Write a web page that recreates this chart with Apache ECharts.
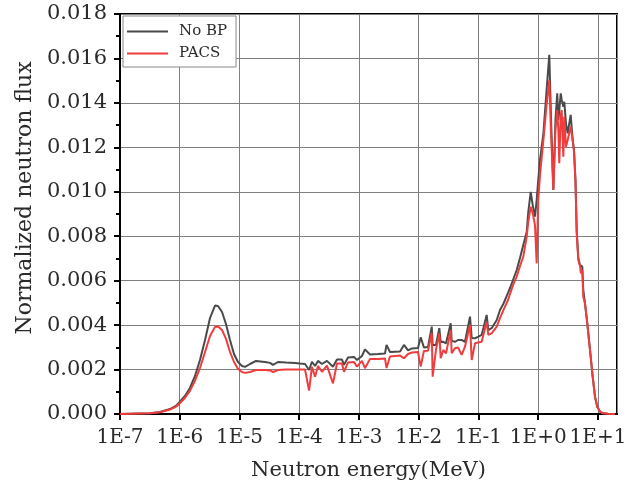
<!DOCTYPE html>
<html>
<head>
<meta charset="utf-8">
<script src="https://cdn.jsdelivr.net/npm/echarts@6/dist/echarts.min.js"></script>
<style>html,body{margin:0;padding:0;background:#fff}#c{width:633px;height:490px}</style>
</head>
<body>
<div id="c"></div>
<script>
const energy = [1.00e-7,1.47e-7,2.16e-7,3.18e-7,4.67e-7,6.87e-7,8.99e-7,1.22e-6,1.48e-6,1.80e-6,2.18e-6,2.65e-6,3.21e-6,3.89e-6,4.37e-6,5.10e-6,5.94e-6,6.93e-6,8.09e-6,9.44e-6,1.10e-5,1.24e-5,1.50e-5,1.89e-5,2.67e-5,3.24e-5,3.64e-5,4.41e-5,6.00e-5,8.49e-5,1.03e-4,1.25e-4,1.46e-4,1.63e-4,1.84e-4,2.06e-4,2.40e-4,2.91e-4,3.67e-4,4.28e-4,5.19e-4,5.61e-4,6.55e-4,8.25e-4,9.26e-4,1.12e-3,1.26e-3,1.53e-3,2.08e-3,2.72e-3,2.89e-3,3.30e-3,4.86e-3,5.66e-3,6.61e-3,7.71e-3,9.71e-3,1.08e-2,1.22e-2,1.43e-2,1.65e-2,1.71e-2,1.94e-2,2.21e-2,2.33e-2,2.58e-2,2.86e-2,3.43e-2,3.56e-2,4.04e-2,4.54e-2,5.23e-2,5.94e-2,7.21e-2,7.70e-2,8.74e-2,9.81e-2,0.113,0.137,0.146,0.166,0.202,0.229,0.260,0.312,0.337,0.378,0.436,0.495,0.562,0.641,0.681,0.748,0.808,0.882,0.942,1.00,1.07,1.22,1.38,1.53,1.63,1.79,1.94,2.08,2.17,2.25,2.38,2.47,2.63,2.73,2.91,3.11,3.49,3.77,3.97,4.20,4.40,4.68,5.00,5.19,5.46,5.67,6.06,6.62,7.35,8.15,8.91,9.73,10.8,12.1,14.7,19.3];

const noBP = [0,0.00001,0.00002,0.00003,0.00009,0.000225,0.000405,0.00081,0.00117,0.00171,0.00243,0.00333,0.00432,0.00488,0.00486,0.00459,0.00405,0.00333,0.0027,0.00234,0.00216,0.00212,0.00225,0.00239,0.00234,0.0023,0.00221,0.00234,0.00232,0.0023,0.00227,0.00225,0.00198,0.00235,0.00216,0.00239,0.00225,0.00239,0.00213,0.00245,0.00245,0.00221,0.00254,0.00257,0.00243,0.00261,0.00291,0.00268,0.0027,0.00272,0.00311,0.00279,0.00281,0.00311,0.00286,0.00295,0.00297,0.00345,0.00299,0.00302,0.00393,0.00311,0.00311,0.00386,0.00324,0.00325,0.00318,0.00408,0.00329,0.00325,0.00333,0.00333,0.00325,0.00438,0.00342,0.00341,0.00347,0.00356,0.00446,0.00378,0.00386,0.00423,0.00468,0.00495,0.00545,0.00567,0.00603,0.00648,0.00702,0.00761,0.00819,0.00909,0.0100,0.0094,0.00888,0.00963,0.01053,0.01143,0.01263,0.01458,0.01616,0.01346,0.01008,0.01323,0.01443,0.01323,0.01368,0.01443,0.01413,0.01383,0.01405,0.01308,0.01263,0.01346,0.01233,0.01188,0.01053,0.00828,0.00702,0.0067,0.0067,0.00663,0.00558,0.00498,0.00408,0.00288,0.00168,0.00078,0.000315,0.00011,0.00003,0.00001,0.000005];

const pacs = [0,0.00001,0.00002,0.00003,0.00008,0.0002,0.00036,0.00072,0.00104,0.00149,0.00207,0.00279,0.00351,0.00392,0.00394,0.00378,0.00338,0.00279,0.00234,0.00203,0.00189,0.00185,0.00189,0.00198,0.00198,0.00196,0.00189,0.00198,0.002,0.002,0.002,0.002,0.00105,0.00212,0.00168,0.00216,0.0019,0.00218,0.00138,0.00227,0.00227,0.0019,0.00232,0.00234,0.00213,0.00239,0.00206,0.00248,0.00248,0.0025,0.00207,0.00259,0.00263,0.00251,0.0027,0.00277,0.00279,0.00213,0.00284,0.00285,0.00365,0.00168,0.00288,0.00363,0.00251,0.00288,0.00273,0.00378,0.00273,0.00296,0.00299,0.00266,0.00303,0.004,0.00243,0.00318,0.00322,0.00325,0.00415,0.00356,0.00363,0.00393,0.00431,0.00466,0.00513,0.0054,0.0058,0.00618,0.00666,0.00708,0.00798,0.00864,0.00933,0.00903,0.0085,0.00678,0.00963,0.01076,0.01233,0.01391,0.01503,0.01278,0.01008,0.01278,0.01368,0.01278,0.01128,0.01346,0.01368,0.01158,0.01338,0.01203,0.01233,0.01293,0.01233,0.01179,0.01044,0.00813,0.00693,0.00666,0.00633,0.00648,0.00528,0.00498,0.00408,0.00288,0.00168,0.00078,0.000315,0.00011,0.00003,0.00001,0.000005];

const seriesNames = ['No BP', 'PACS'];
const xTitle = 'Neutron energy(MeV)';
const yTitle = 'Normalized neutron flux';

const FONT = '"DejaVu Serif", "Liberation Serif", serif';
const TXT = '#2a2a2a';

const chart = echarts.init(document.getElementById('c'), null, {renderer: 'canvas'});
const pair = arr => energy.map((e, i) => [e, arr[i]]);

chart.setOption({
  animation: false,
  backgroundColor: '#fff',
  grid: {left: 120, right: 16, top: 14, bottom: 76, show: true, borderColor: '#000', borderWidth: 2, backgroundColor: 'transparent'},
  legend: {
    orient: 'vertical', left: 123, top: 16,
    padding: [8, 9, 6, 4], itemGap: 7, itemWidth: 41, itemHeight: 2, icon: 'rect',
    borderColor: '#888', borderWidth: 1, borderRadius: 0, backgroundColor: '#fff',
    textStyle: {fontFamily: FONT, fontSize: 15, color: TXT, lineHeight: 15, padding: [0, 0, 0, 6]},
    data: seriesNames
  },
  xAxis: {
    type: 'log', logBase: 10, min: 1e-7, max: 20.8, splitNumber: 8,
    name: xTitle, nameLocation: 'middle', nameGap: 46,
    nameTextStyle: {fontFamily: FONT, fontSize: 21, color: TXT},
    axisLine: {show: true, lineStyle: {color: '#000', width: 2}},
    axisTick: {show: true, inside: false, length: 6, lineStyle: {color: '#000', width: 2}},
    minorTick: {show: false},
    splitLine: {show: true, lineStyle: {color: '#808080', width: 1}},
    axisLabel: {
      fontFamily: FONT, fontSize: 20, color: TXT, margin: 14, showMaxLabel: false,
      formatter: v => {
        const l = Math.log10(v), e = Math.round(l);
        if (Math.abs(l - e) > 1e-6) return '';
        return '1E' + (e >= 0 ? '+' : '-') + Math.abs(e);
      }
    }
  },
  yAxis: {
    type: 'value', min: 0, max: 0.018, interval: 0.002,
    axisLine: {show: true, lineStyle: {color: '#000', width: 2}},
    axisTick: {show: true, inside: false, length: 6, lineStyle: {color: '#000', width: 2}},
    minorTick: {show: true, splitNumber: 2, length: 4, lineStyle: {color: '#000', width: 2}},
    splitLine: {show: true, lineStyle: {color: '#808080', width: 1}},
    axisLabel: {fontFamily: FONT, fontSize: 21, color: TXT, margin: 13, formatter: v => v.toFixed(3)}
  },
  graphic: [{
    type: 'text', x: 25, y: 198, rotation: Math.PI / 2,
    style: {text: yTitle, font: '22px ' + FONT, fill: TXT, align: 'center', verticalAlign: 'middle'}
  }],
  series: [
    {name: seriesNames[0], type: 'line', data: pair(noBP), symbol: 'none', showSymbol: false,
     lineStyle: {color: '#4a4a4a', width: 2}, itemStyle: {color: '#4a4a4a'}, z: 2},
    {name: seriesNames[1], type: 'line', data: pair(pacs), symbol: 'none', showSymbol: false,
     lineStyle: {color: '#f03c3c', width: 2}, itemStyle: {color: '#f03c3c'}, z: 3}
  ]
});
</script>
</body>
</html>
